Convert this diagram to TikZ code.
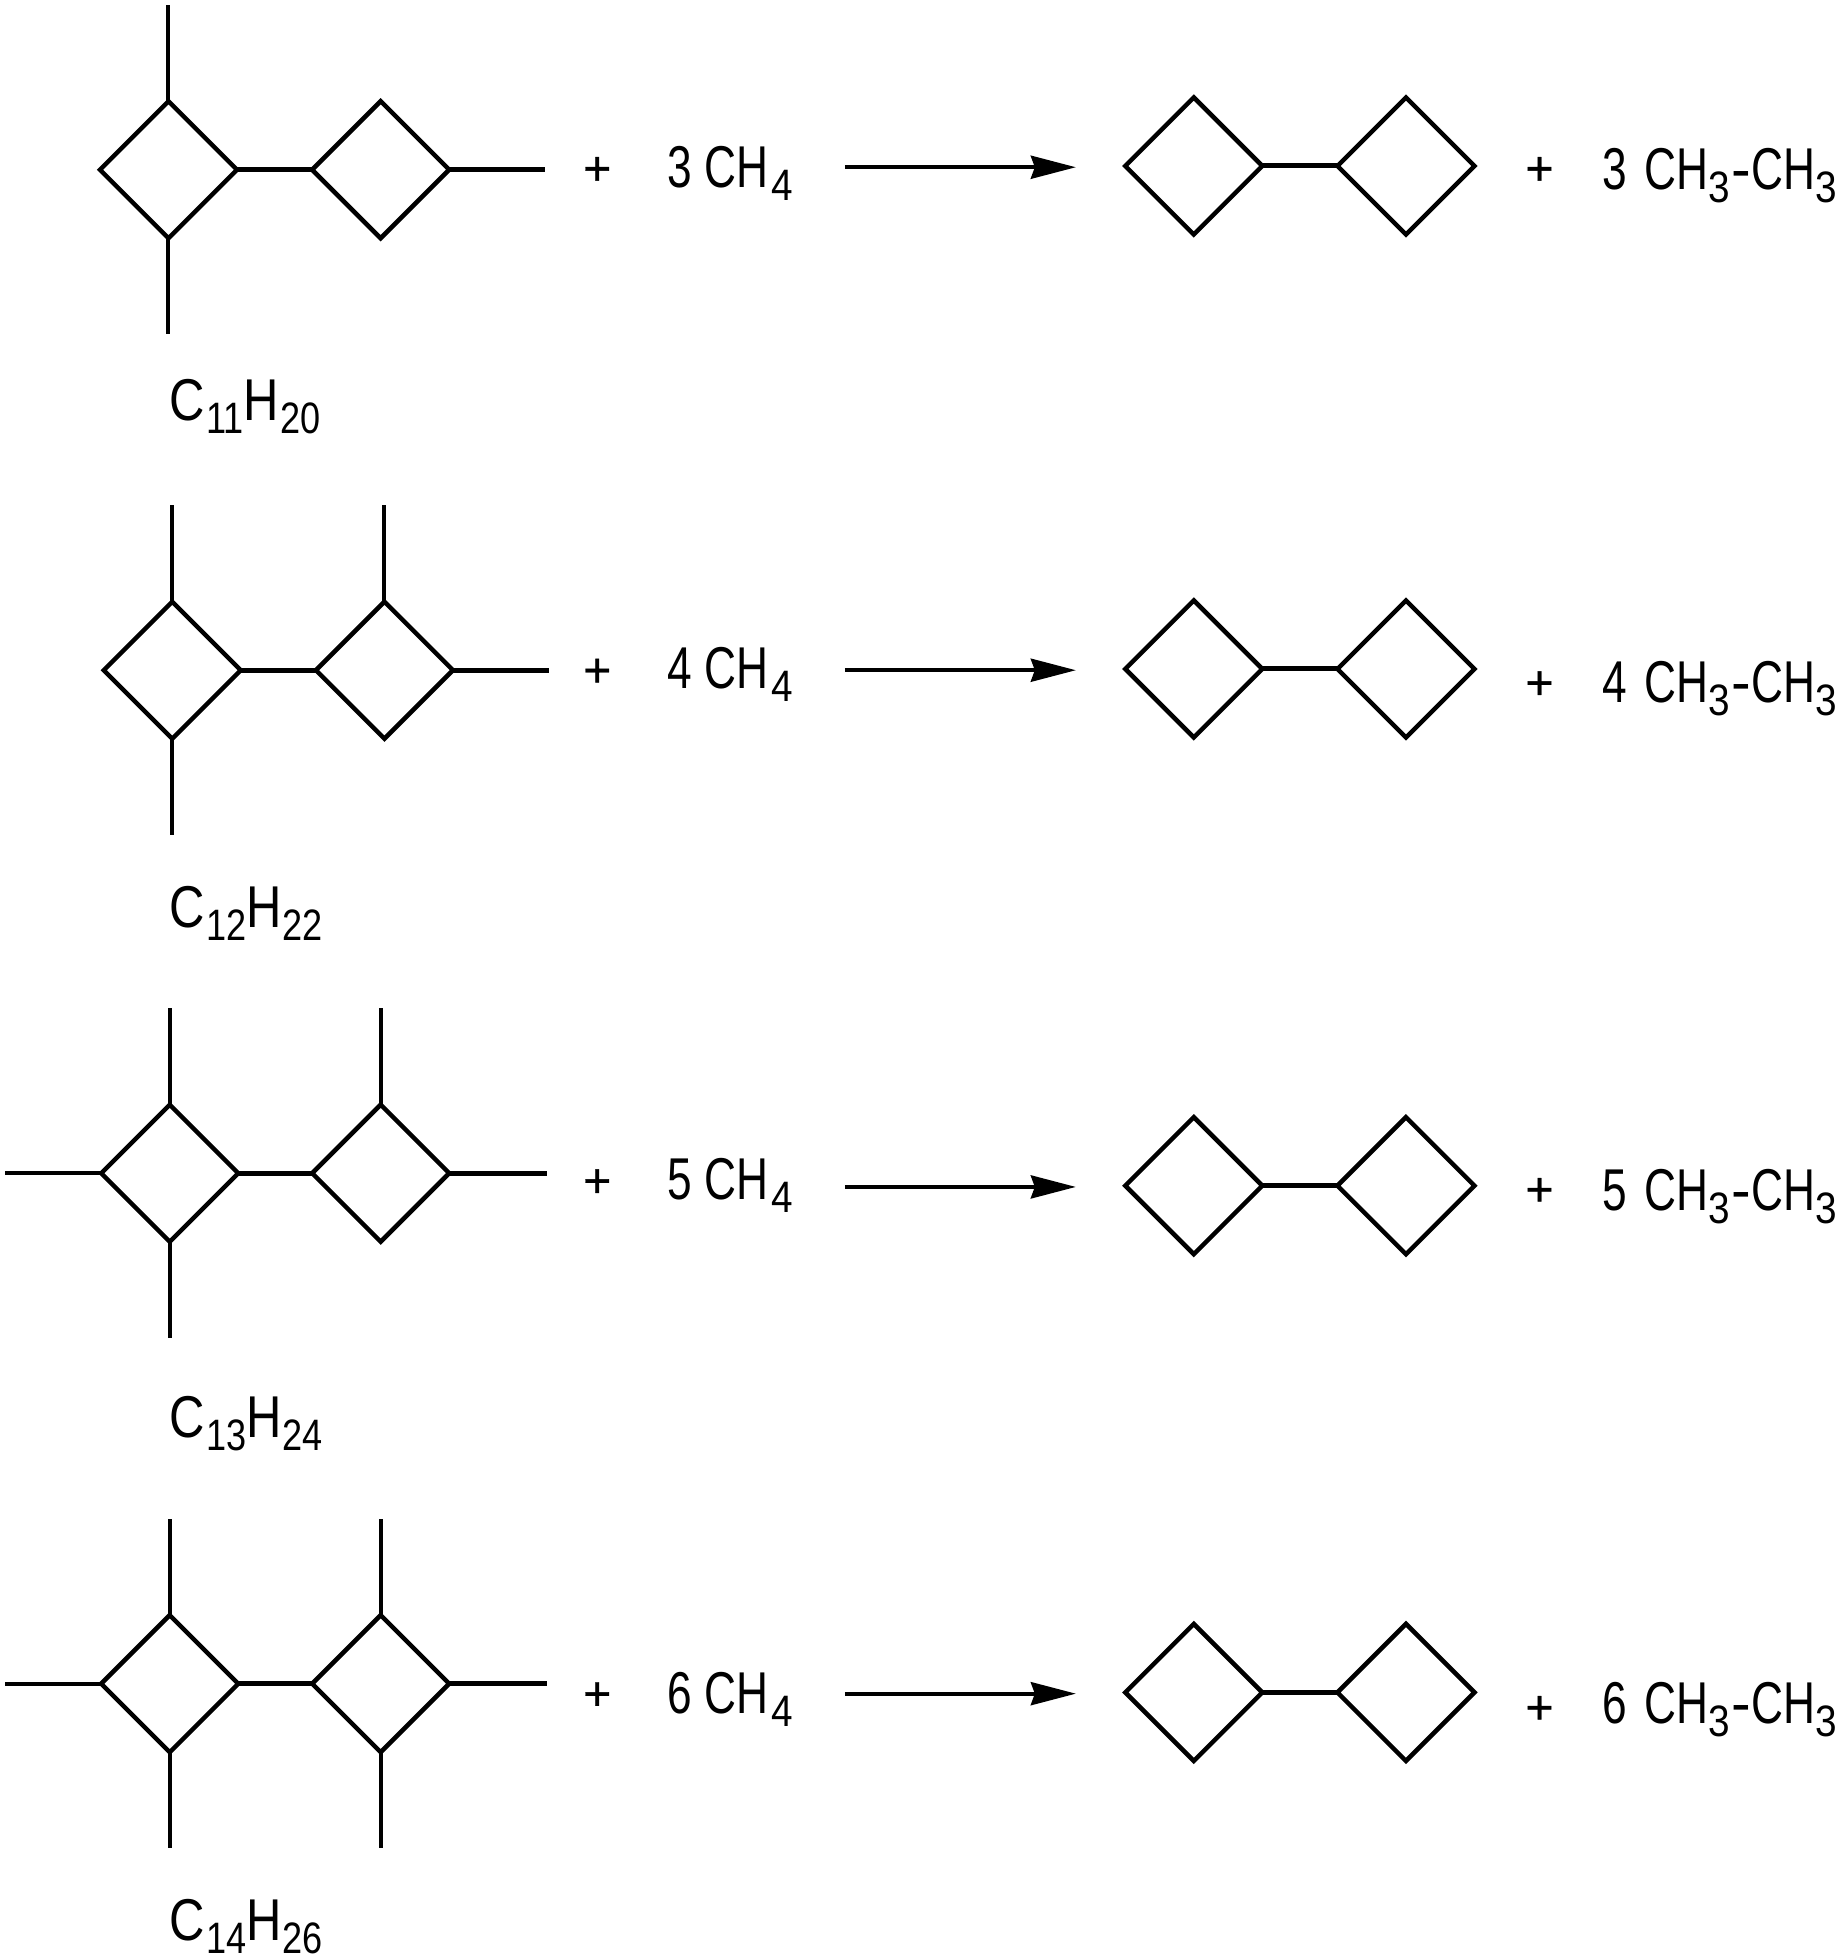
\documentclass[tikz,border=0pt]{standalone}
\usepackage{fontspec}
\setmainfont[FakeStretch=0.75]{Liberation Sans}
\newfontfamily\plusfont[FakeBold=0.7]{Liberation Sans}
\newfontfamily\hyphenfont{Liberation Sans}
\newfontfamily\labelfont[FakeStretch=0.83]{Liberation Sans}
\newfontfamily\subfont[FakeStretch=0.88]{Liberation Sans}
\newfontfamily\labelsubfont[FakeStretch=0.82]{Liberation Sans}
\usetikzlibrary{shapes.geometric,arrows.meta}
\newcommand{\lowsub}[1]{\raisebox{-13pt}{\subfont\fontsize{44}{44}\selectfont #1}}
\newcommand{\labelsub}[1]{\kern1pt\raisebox{-13pt}{\labelsubfont\fontsize{44}{44}\selectfont #1}}
\newcommand{\methane}[1]{#1 CH\kern3pt\lowsub{4}}
\newcommand{\ethane}[1]{#1\kern5pt\ CH\lowsub{3}{\hyphenfont\kern1pt-\kern1pt}CH\lowsub{3}}
\tikzset{
  ring/.style={draw,shape=diamond,aspect=1,inner sep=0pt,outer sep=0pt,minimum width=137pt,minimum height=137pt,line width=4.5pt,miter limit=10},
  bond/.style={line width=4pt},
  hbond/.style={line width=5pt},
  rxnarrow/.style={line width=3.8pt,-{Stealth[length=45pt,width=23pt,inset=4pt]}},
  chem/.style={anchor=base west,inner sep=0pt,font=\fontsize{59}{59}\selectfont},
  formula/.style={anchor=base west,inner sep=0pt,font=\labelfont\fontsize{59}{59}\selectfont},
  plussign/.style={anchor=center,inner sep=0pt,font=\plusfont\fontsize{48}{48}\selectfont}
}
\begin{document}
\begin{tikzpicture}[x=1.248pt,y=-1.248pt]
\useasboundingbox (0,0) rectangle (1472,1568);
% ---- row 1
\node[ring] (a1) at (135,136) {};
\node[ring] (b1) at (305,136) {};
\coordinate (a1t) at (135,4);
\coordinate (a1d) at (135,268);
\coordinate (b1r) at (437,136);
\draw[bond] (a1.north) -- (a1t);
\draw[bond] (a1.south) -- (a1d);
\draw[hbond] (a1.east) -- (b1.west);
\draw[hbond] (b1.east) -- (b1r);
\node[formula] (f1) at (136,337) {C\labelsub{11}H\labelsub{20}};
\node[plussign] (p1) at (478.5,137) {+};
\node[chem] (m1) at (535,150) {\methane{3}};
\coordinate (s1) at (677,134);
\coordinate (e1) at (862,134);
\draw[rxnarrow] (s1) -- (e1);
\node[ring] (c1) at (956.5,133) {};
\node[ring] (d1) at (1126.5,133) {};
\draw[hbond] (c1.east) -- (d1.west);
\node[plussign] (q1) at (1233.5,137) {+};
\node[chem] (n1) at (1284,152) {\ethane{3}};
% ---- row 2
\node[ring] (a2) at (138,537) {};
\node[ring] (b2) at (308,537) {};
\coordinate (a2t) at (138,405);
\coordinate (a2d) at (138,669);
\coordinate (b2t) at (308,405);
\coordinate (b2r) at (440,537);
\draw[bond] (a2.north) -- (a2t);
\draw[bond] (a2.south) -- (a2d);
\draw[bond] (b2.north) -- (b2t);
\draw[hbond] (a2.east) -- (b2.west);
\draw[hbond] (b2.east) -- (b2r);
\node[formula] (f2) at (136,743) {C\labelsub{12}H\labelsub{22}};
\node[plussign] (p2) at (478.5,539) {+};
\node[chem] (m2) at (535,552) {\methane{4}};
\coordinate (s2) at (677,537);
\coordinate (e2) at (862,537);
\draw[rxnarrow] (s2) -- (e2);
\node[ring] (c2) at (956.5,536) {};
\node[ring] (d2) at (1126.5,536) {};
\draw[hbond] (c2.east) -- (d2.west);
\node[plussign] (q2) at (1233.5,549) {+};
\node[chem] (n2) at (1284,563) {\ethane{4}};
% ---- row 3
\node[ring] (a3) at (136,940) {};
\node[ring] (b3) at (305,940) {};
\coordinate (a3l) at (4,940);
\coordinate (a3t) at (136,808);
\coordinate (a3d) at (136,1072);
\coordinate (b3t) at (305,808);
\coordinate (b3r) at (438,940);
\draw[bond] (a3.west) -- (a3l);
\draw[bond] (a3.north) -- (a3t);
\draw[bond] (a3.south) -- (a3d);
\draw[bond] (b3.north) -- (b3t);
\draw[hbond] (a3.east) -- (b3.west);
\draw[hbond] (b3.east) -- (b3r);
\node[formula] (f3) at (136,1152) {C\labelsub{13}H\labelsub{24}};
\node[plussign] (p3) at (478.5,948) {+};
\node[chem] (m3) at (535,961) {\methane{5}};
\coordinate (s3) at (677,951);
\coordinate (e3) at (862,951);
\draw[rxnarrow] (s3) -- (e3);
\node[ring] (c3) at (956.5,950) {};
\node[ring] (d3) at (1126.5,950) {};
\draw[hbond] (c3.east) -- (d3.west);
\node[plussign] (q3) at (1233.5,955) {+};
\node[chem] (n3) at (1284,970) {\ethane{5}};
% ---- row 4
\node[ring] (a4) at (136,1349) {};
\node[ring] (b4) at (305,1349) {};
\coordinate (a4l) at (4,1349);
\coordinate (a4t) at (136,1217);
\coordinate (a4d) at (136,1481);
\coordinate (b4t) at (305,1217);
\coordinate (b4d) at (305,1481);
\coordinate (b4r) at (438,1349);
\draw[bond] (a4.west) -- (a4l);
\draw[bond] (a4.north) -- (a4t);
\draw[bond] (a4.south) -- (a4d);
\draw[bond] (b4.north) -- (b4t);
\draw[bond] (b4.south) -- (b4d);
\draw[hbond] (a4.east) -- (b4.west);
\draw[hbond] (b4.east) -- (b4r);
\node[formula] (f4) at (136,1555) {C\labelsub{14}H\labelsub{26}};
\node[plussign] (p4) at (478.5,1359) {+};
\node[chem] (m4) at (535,1373) {\methane{6}};
\coordinate (s4) at (677,1357);
\coordinate (e4) at (862,1357);
\draw[rxnarrow] (s4) -- (e4);
\node[ring] (c4) at (956.5,1356) {};
\node[ring] (d4) at (1126.5,1356) {};
\draw[hbond] (c4.east) -- (d4.west);
\node[plussign] (q4) at (1233.5,1370) {+};
\node[chem] (n4) at (1284,1381) {\ethane{6}};
\end{tikzpicture}
\end{document}
